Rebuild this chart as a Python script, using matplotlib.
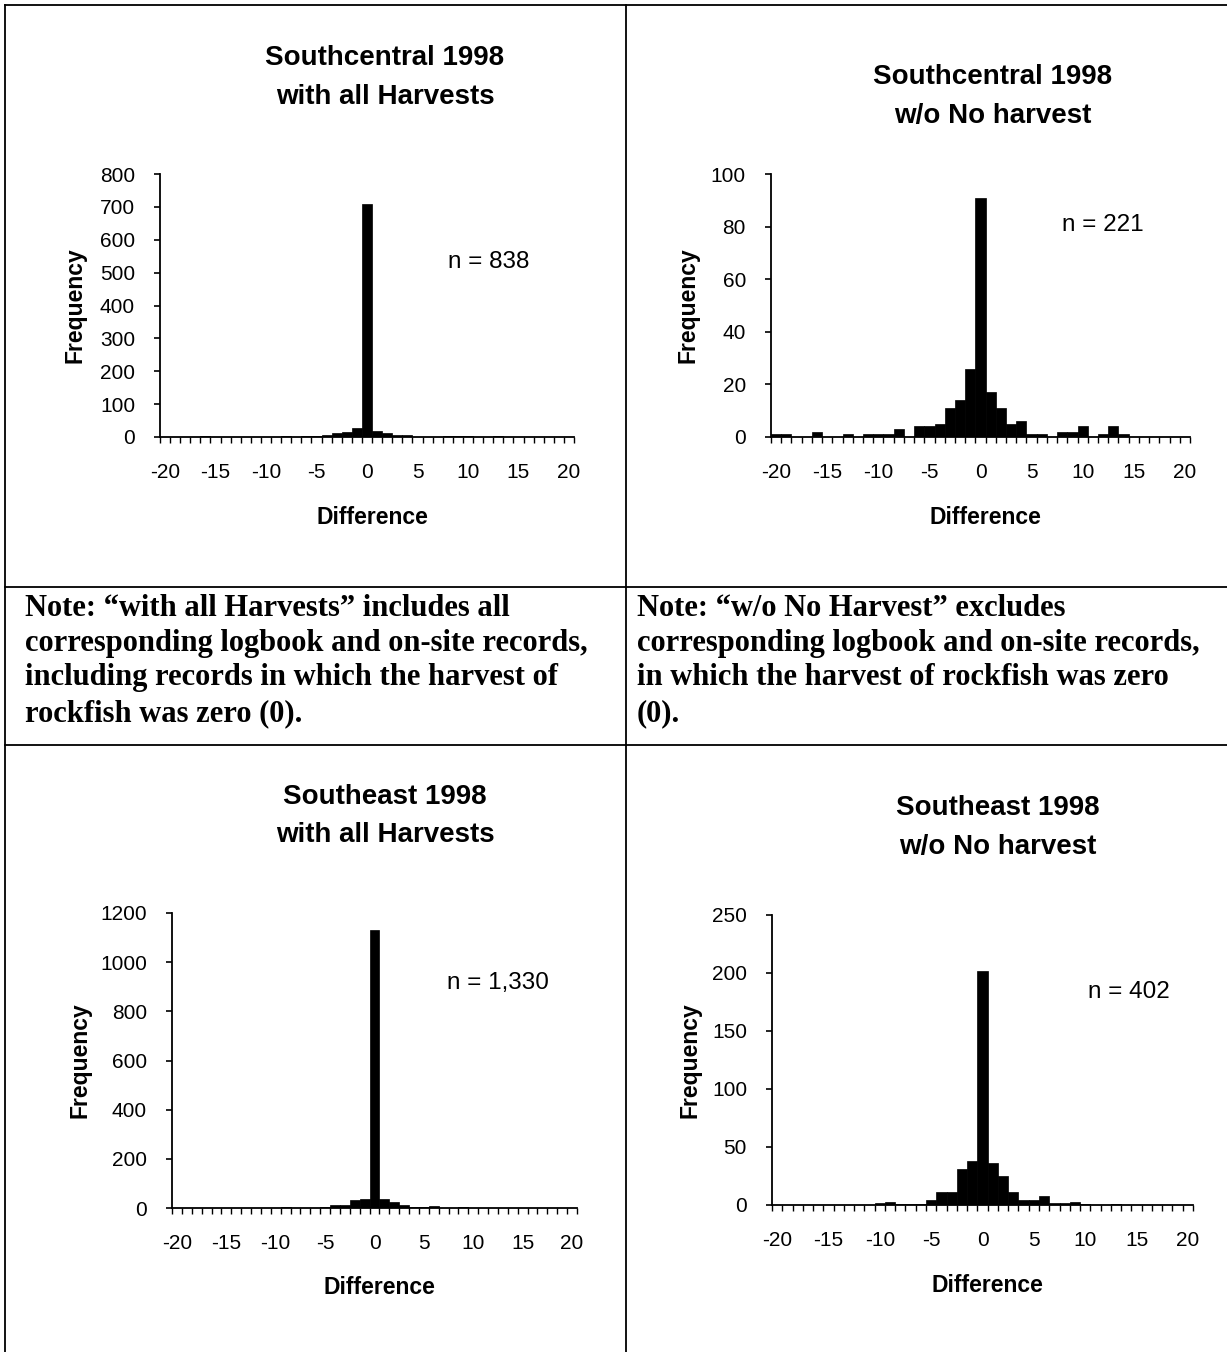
import numpy as np
import matplotlib
matplotlib.use("Agg")
import matplotlib.pyplot as plt
from matplotlib.lines import Line2D

plt.rcParams['font.family'] = ['Liberation Sans', 'DejaVu Sans']
plt.rcParams['axes.unicode_minus'] = False

W, H = 1227, 1352

# difference categories -20 .. 20
differences = list(range(-20, 21))

# Southcentral 1998, w/o No harvest
sc_wo = [1, 1, 0, 0, 2, 0, 0, 1, 0, 1,
         1, 1, 3, 0, 4, 4, 5, 11, 14, 26,
         91,
         17, 11, 5, 6, 1, 1, 0, 2, 2, 4,
         0, 1, 4, 1, 0, 0, 0, 0, 0, 0]
# Southcentral 1998, with all Harvests
sc_all = [1, 1, 0, 0, 2, 0, 0, 1, 0, 1,
          1, 1, 3, 0, 4, 4, 5, 11, 14, 26,
          708,
          17, 11, 5, 6, 1, 1, 0, 2, 2, 4,
          0, 1, 4, 1, 0, 0, 0, 0, 0, 0]
# Southeast 1998, w/o No harvest
se_wo = [0, 0, 0, 0, 0, 0, 0, 0, 0, 0,
         2, 3, 1, 1, 1, 4, 11, 11, 31, 38,
         202,
         36, 25, 11, 4, 4, 8, 2, 2, 3, 1,
         0, 0, 1, 0, 0, 0, 0, 0, 0, 0]
# Southeast 1998, with all Harvests
se_all = [0, 0, 0, 0, 0, 0, 0, 0, 0, 0,
          2, 3, 1, 1, 1, 4, 11, 11, 31, 38,
          1130,
          36, 25, 11, 4, 4, 8, 2, 2, 3, 1,
          0, 0, 1, 0, 0, 0, 0, 0, 0, 0]

x_labels = [-20, -15, -10, -5, 0, 5, 10, 15, 20]

panels = [
    dict(data=sc_all, title=("Southcentral 1998", "with all Harvests"), n="n = 838",
         ymax=800, ystep=100, box=(160, 174, 574, 437), tx=385, ty=(58, 97),
         npos=(448, 262), fx=75, dy=517),
    dict(data=sc_wo, title=("Southcentral 1998", "w/o No harvest"), n="n = 221",
         ymax=100, ystep=20, box=(771, 174, 1190, 437), tx=993, ty=(77, 116),
         npos=(1062, 225), fx=688, dy=517),
    dict(data=se_all, title=("Southeast 1998", "with all Harvests"), n="n = 1,330",
         ymax=1200, ystep=200, box=(172, 913, 577, 1208), tx=385, ty=(797, 835),
         npos=(447, 983), fx=80, dy=1287),
    dict(data=se_wo, title=("Southeast 1998", "w/o No harvest"), n="n = 402",
         ymax=250, ystep=50, box=(772, 915, 1193, 1205), tx=998, ty=(808, 847),
         npos=(1088, 992), fx=690, dy=1286),
]

fig = plt.figure(figsize=(W / 100, H / 100), dpi=100)
fig.patch.set_facecolor('white')


def fx_(x):
    return x / W


def fy_(y):
    return 1 - y / H


for p in panels:
    l, t, r, b = p['box']
    ax = fig.add_axes([fx_(l), fy_(b), (r - l) / W, (b - t) / H])
    ax.bar(differences, p['data'], width=1.0, color='black', edgecolor='black', linewidth=0.5)
    ax.set_xlim(-20.5, 20.5)
    ax.set_ylim(0, p['ymax'])
    for s in ['top', 'right']:
        ax.spines[s].set_visible(False)
    for s in ['left', 'bottom']:
        ax.spines[s].set_linewidth(1.3)
    ax.set_yticks(np.arange(0, p['ymax'] + 1, p['ystep']))
    ax.tick_params(axis='y', direction='out', length=4, width=1.2, labelsize=15, pad=14)
    ax.set_xticks(x_labels)
    ax.set_xticks(np.arange(-20.5, 21, 1), minor=True)
    ax.tick_params(axis='x', which='major', length=0, labelsize=15, pad=19)
    ax.tick_params(axis='x', which='minor', direction='out', length=4, width=1.0)

    for line, y in zip(p['title'], p['ty']):
        fig.text(fx_(p['tx']), fy_(y), line, ha='center', va='center',
                 fontsize=20, fontweight='bold')
    fig.text(fx_(p['npos'][0]), fy_(p['npos'][1]), p['n'], ha='left', va='center', fontsize=17.5)
    fig.text(fx_(p['fx']), fy_((t + b) / 2), "Frequency", ha='center', va='center',
             rotation=90, fontsize=16.5, fontweight='bold')
    fig.text(fx_((l + r) / 2 + 5), fy_(p['dy']), "Difference", ha='center', va='center',
             fontsize=16.5, fontweight='bold')

# table borders
lw = 1.3
for (x0, y0, x1, y1) in [(5, 5, W, 5), (5, 5, 5, H), (626, 5, 626, H),
                         (5, 587, W, 587), (5, 745, W, 745)]:
    fig.add_artist(Line2D([fx_(x0), fx_(x1)], [fy_(y0), fy_(y1)],
                          transform=fig.transFigure, color='black', linewidth=lw))

note_left = ["Note: \u201cwith all Harvests\u201d includes all",
             "corresponding logbook and on-site records,",
             "including records in which the harvest of",
             "rockfish was zero (0)."]
note_right = ["Note: \u201cw/o No Harvest\u201d excludes",
              "corresponding logbook and on-site records,",
              "in which the harvest of rockfish was zero",
              "(0)."]
line_y = [608, 643, 678, 714]
for txt, y in zip(note_left, line_y):
    fig.text(fx_(25), fy_(y), txt, ha='left', va='center', fontsize=22,
             fontweight='bold', family=['Liberation Serif', 'DejaVu Serif'])
for txt, y in zip(note_right, line_y):
    fig.text(fx_(637), fy_(y), txt, ha='left', va='center', fontsize=22,
             fontweight='bold', family=['Liberation Serif', 'DejaVu Serif'])

fig.savefig("out.png", dpi=100)
